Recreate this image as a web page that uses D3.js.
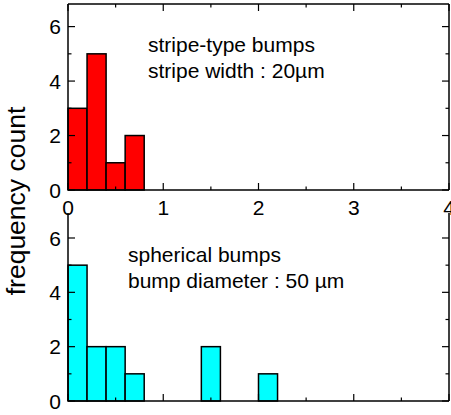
<!DOCTYPE html>
<html><head><meta charset="utf-8">
<script src="https://cdn.jsdelivr.net/npm/d3@7"></script>
<style>body{margin:0;background:#fff}svg{display:block}text{font-family:"Liberation Sans",Arial,sans-serif;fill:#000}</style>
</head><body>
<script>
const binWidth = 0.2;
const stripeBins = [0, 0.2, 0.4, 0.6];
const stripeCounts = [3, 5, 1, 2];
const sphereBins = [0, 0.2, 0.4, 0.6, 1.4, 2.0];
const sphereCounts = [5, 2, 2, 1, 2, 1];
const xTicks = [0, 1, 2, 3, 4];
const xMinor = [0.5, 1.5, 2.5, 3.5];
const yTicks = [0, 2, 4, 6];
const yMinor = [1, 3, 5];
const stripeLabels = ["stripe-type bumps", "stripe width : 20\u00b5m"];
const sphereLabels = ["spherical bumps", "bump diameter : 50 \u00b5m"];
const yTitle = "frequency count";

const W = 451, H = 415;
const svg = d3.select("body").append("svg").attr("width", W).attr("height", H);
const x = d3.scaleLinear().domain([0, 4]).range([68, 449]);

function panel(opts) {
  const y = d3.scaleLinear().domain([0, opts.ymax]).range([opts.y0, opts.y1]);
  const g = svg.append("g");
  const data = opts.bins.map((b, i) => ({b, c: opts.counts[i]}));
  g.selectAll("rect").data(data).enter().append("rect")
    .attr("x", d => x(d.b)).attr("width", d => x(d.b + binWidth) - x(d.b))
    .attr("y", d => y(d.c)).attr("height", d => y(0) - y(d.c))
    .attr("fill", opts.color).attr("stroke", "#000").attr("stroke-width", 1.5);
  const L = x.range()[0], R = x.range()[1], B = y(0), T = y(opts.ymax);
  const ln = (x1, y1, x2, y2, w) => g.append("line").attr("x1", x1).attr("y1", y1).attr("x2", x2).attr("y2", y2)
    .attr("stroke", "#000").attr("stroke-width", w || 1.5);
  ln(L, B, R, B); ln(L, T, L, B); ln(R, T, R, B);
  if (opts.top) ln(L, T, R, T);
  xTicks.forEach(t => { ln(x(t), B, x(t), B - 7, 1.2); if (opts.top) ln(x(t), T, x(t), T + 7, 1.2); });
  xMinor.forEach(t => { ln(x(t), B, x(t), B - 3.5, 1.2); if (opts.top) ln(x(t), T, x(t), T + 3.5, 1.2); });
  yTicks.forEach(t => { ln(L, y(t), L + 7, y(t), 1.2); ln(R, y(t), R - 7, y(t), 1.2); });
  yMinor.forEach(t => { ln(L, y(t), L + 3.5, y(t), 1.2); ln(R, y(t), R - 3.5, y(t), 1.2); });
  g.selectAll("text.yl").data(yTicks).enter().append("text").attr("class", "yl")
    .attr("x", 61).attr("y", d => y(d)).attr("dy", "0.36em").attr("text-anchor", "end")
    .style("font-size", "21px").text(d => d);
  if (opts.xlabels) {
    g.selectAll("text.xl").data(xTicks).enter().append("text").attr("class", "xl")
      .attr("x", d => x(d)).attr("y", 215).attr("text-anchor", "middle")
      .style("font-size", "21px").text(d => d);
  }
  opts.labels.forEach((t, i) => {
    g.append("text").attr("x", opts.lx).attr("y", opts.ly + i * 26)
      .style("font-size", "21px").text(t);
  });
}

panel({bins: stripeBins, counts: stripeCounts, color: "#ff0000", ymax: 6.83, y0: 190, y1: 4,
  top: true, xlabels: true, labels: stripeLabels, lx: 148, ly: 52});
panel({bins: sphereBins, counts: sphereCounts, color: "#00ffff", ymax: 6.92, y0: 401, y1: 213,
  top: false, xlabels: false, labels: sphereLabels, lx: 128, ly: 262});

svg.append("text").attr("transform", "translate(25,201) rotate(-90)")
  .attr("text-anchor", "middle").style("font-size", "26.5px").text(yTitle);
</script>
</body></html>
